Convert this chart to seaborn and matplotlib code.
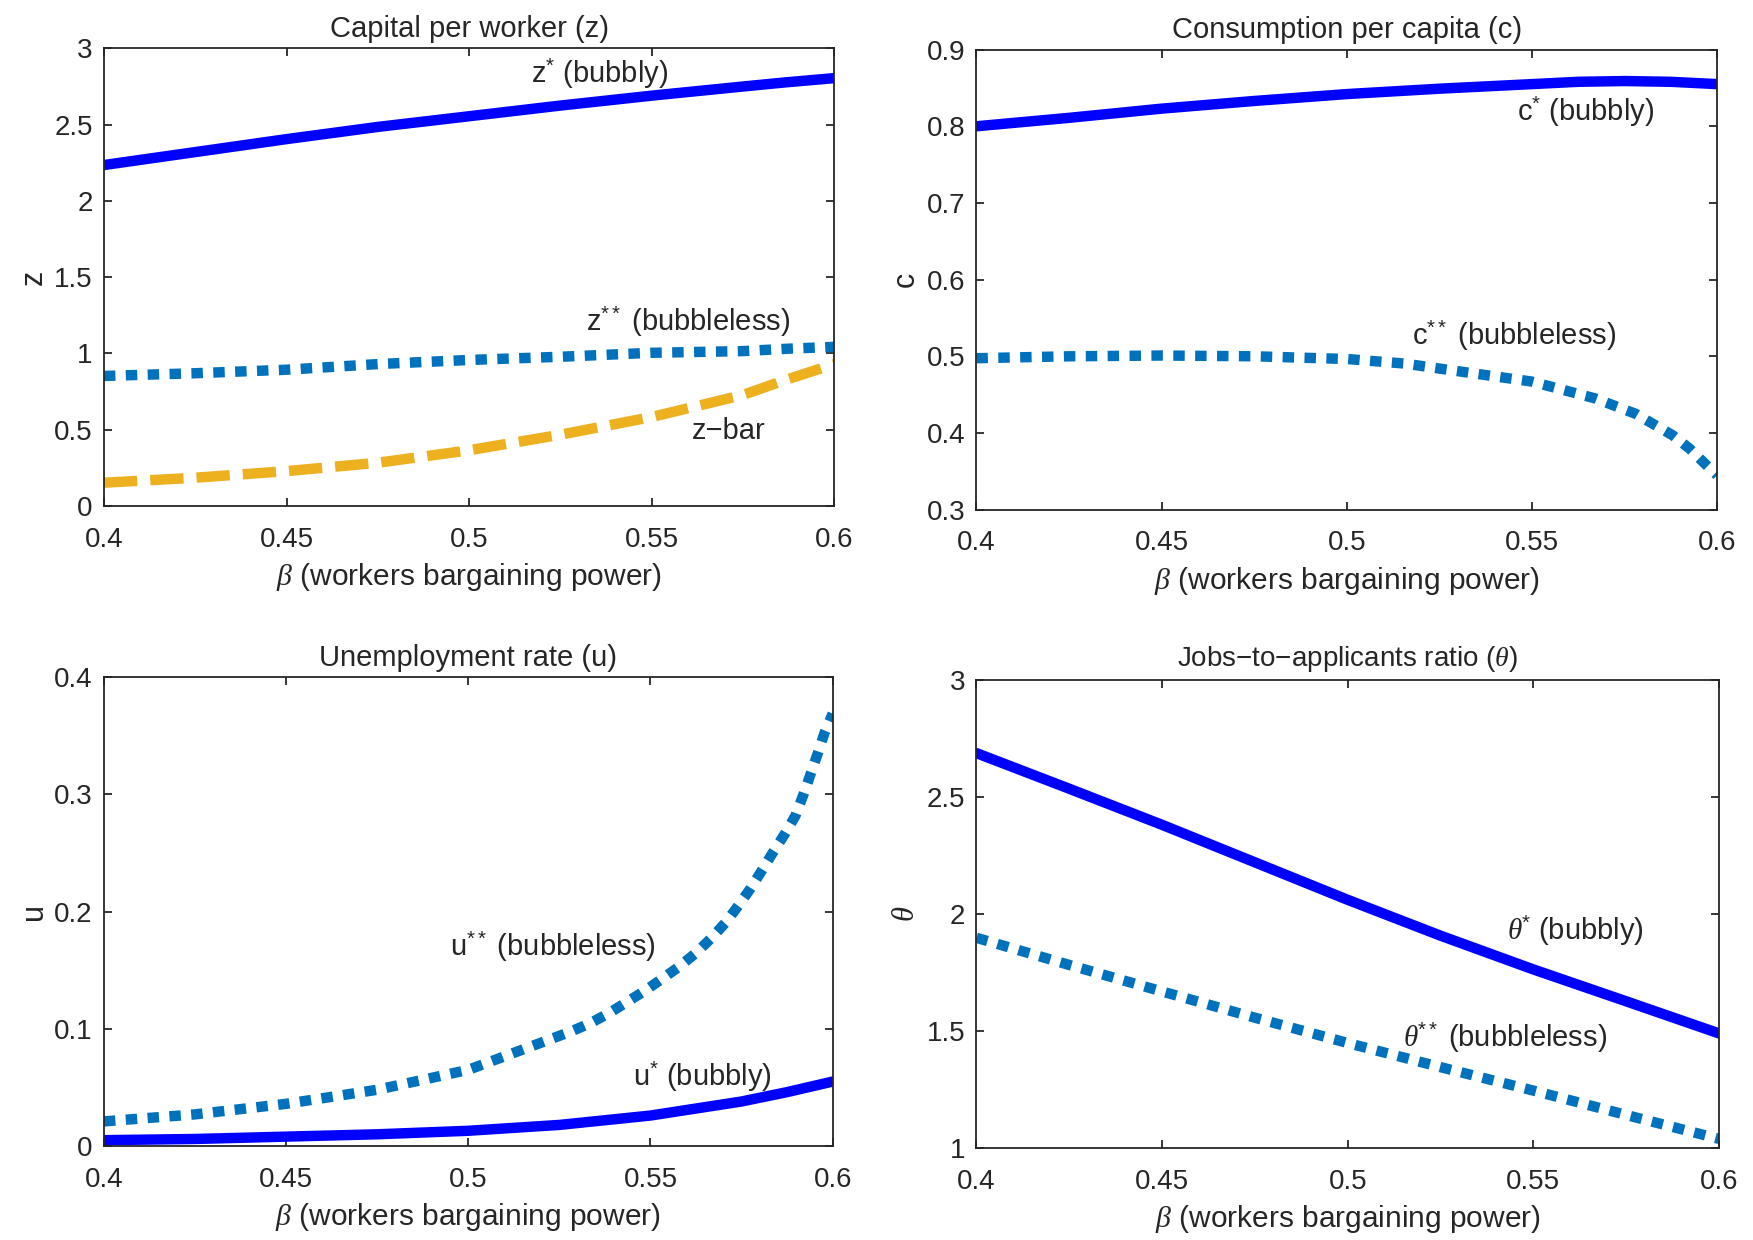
import seaborn as sns
import matplotlib.pyplot as plt

# values
beta_z = [0.4, 0.425, 0.45, 0.475, 0.5, 0.525, 0.55, 0.575, 0.5866, 0.6]
z_star = [2.235, 2.32, 2.405, 2.485, 2.555, 2.625, 2.69, 2.75, 2.777, 2.805]
z_2star = [0.852, 0.870, 0.893, 0.93, 0.957, 0.978, 1.004, 1.015, 1.03, 1.043]
z_bar = [0.152, 0.185, 0.228, 0.283, 0.365, 0.467, 0.583, 0.728, 0.826, 0.93]

beta_c = [0.4, 0.425, 0.45, 0.475, 0.5, 0.525, 0.55, 0.5625, 0.575, 0.5875, 0.6]
c_star = [0.80, 0.811, 0.823, 0.833, 0.842, 0.849, 0.855, 0.858, 0.859, 0.858, 0.855]
beta_c2 = [0.4, 0.425, 0.45, 0.475, 0.5, 0.5157, 0.525, 0.55, 0.5672, 0.578, 0.588, 0.5926, 0.5967, 0.6]
c_2star = [0.4975, 0.50, 0.501, 0.50, 0.4965, 0.4905, 0.484, 0.467, 0.4449, 0.425, 0.397, 0.3795, 0.36, 0.345]

beta_u = [0.4, 0.425, 0.45, 0.475, 0.5, 0.525, 0.55, 0.575, 0.5875, 0.6]
u_star = [0.005, 0.006, 0.008, 0.010, 0.013, 0.018, 0.026, 0.038, 0.046, 0.055]
beta_u2 = [0.4, 0.425, 0.45, 0.475, 0.5, 0.528, 0.5336, 0.5386, 0.5436, 0.5487, 0.5533,
           0.5578, 0.5628, 0.567, 0.5707, 0.5742, 0.5775, 0.5806, 0.5837, 0.587, 0.5898,
           0.5921, 0.594, 0.5959, 0.5977, 0.6]
u_2star = [0.021, 0.027, 0.036, 0.048, 0.065, 0.0975, 0.105, 0.1134, 0.123, 0.133, 0.143,
           0.1529, 0.1656, 0.1784, 0.191, 0.2055, 0.22, 0.2353, 0.251, 0.267, 0.282,
           0.301, 0.318, 0.335, 0.352, 0.369]

beta_t = [0.4, 0.425, 0.45, 0.475, 0.5, 0.525, 0.55, 0.575, 0.6]
theta_star = [2.686, 2.534, 2.38, 2.22, 2.06, 1.907, 1.763, 1.627, 1.49]
theta_2star = [1.898, 1.782, 1.669, 1.557, 1.449, 1.346, 1.246, 1.142, 1.04]

sns.set_style("ticks")
plt.rcParams['font.family'] = ['Liberation Sans', 'DejaVu Sans']
plt.rcParams['mathtext.fontset'] = 'custom'
plt.rcParams['mathtext.rm'] = 'Liberation Sans'
plt.rcParams['mathtext.it'] = 'Liberation Serif:italic'
plt.rcParams['mathtext.bf'] = 'Liberation Sans:bold'
plt.rcParams['axes.linewidth'] = 1.3
plt.rcParams['xtick.direction'] = 'in'
plt.rcParams['ytick.direction'] = 'in'

BLUE = '#0000FF'
LBLUE = '#0072BD'
YELLOW = '#EDB120'
LW = 7.5
DOT = (0, (1.1, 1.0))
DASH = (0, (3.2, 1.25))
ANN = 21

fig = plt.figure(figsize=(17.53, 12.40), dpi=100)
ax1 = fig.add_axes([0.0593, 0.592, 0.4167, 0.369])
ax2 = fig.add_axes([0.557, 0.589, 0.4225, 0.371])
ax3 = fig.add_axes([0.0593, 0.0758, 0.4157, 0.378])
ax4 = fig.add_axes([0.557, 0.074, 0.4236, 0.378])

S1 = r'$^{\mathrm{*}}$'
S2 = r'$^{\mathrm{**}}$'

sns.lineplot(x=beta_z, y=z_star, ax=ax1, color=BLUE, linewidth=LW)
sns.lineplot(x=beta_z, y=z_2star, ax=ax1, color=LBLUE, linewidth=LW, linestyle=DOT)
sns.lineplot(x=beta_z, y=z_bar, ax=ax1, color=YELLOW, linewidth=LW, linestyle=DASH)
ax1.set_ylim(0, 3)
ax1.set_yticks([0, 0.5, 1, 1.5, 2, 2.5, 3])
ax1.set_yticklabels(['0', '0.5', '1', '1.5', '2', '2.5', '3'])
ax1.set_title('Capital per worker (z)', fontsize=21, pad=8)
ax1.set_ylabel('z')
ax1.text(0.517, 2.77, 'z' + S1 + ' (bubbly)', fontsize=ANN)
ax1.text(0.532, 1.15, 'z' + S2 + ' (bubbleless)', fontsize=ANN)
ax1.text(0.561, 0.44, 'z\u2212bar', fontsize=ANN)

sns.lineplot(x=beta_c, y=c_star, ax=ax2, color=BLUE, linewidth=LW)
sns.lineplot(x=beta_c2, y=c_2star, ax=ax2, color=LBLUE, linewidth=LW, linestyle=DOT)
ax2.set_ylim(0.3, 0.9)
ax2.set_yticks([0.3, 0.4, 0.5, 0.6, 0.7, 0.8, 0.9])
ax2.set_yticklabels(['0.3', '0.4', '0.5', '0.6', '0.7', '0.8', '0.9'])
ax2.set_title('Consumption per capita (c)', fontsize=21, pad=8)
ax2.set_ylabel('c')
ax2.text(0.546, 0.8075, 'c' + S1 + ' (bubbly)', fontsize=ANN)
ax2.text(0.5175, 0.515, 'c' + S2 + ' (bubbleless)', fontsize=ANN)

sns.lineplot(x=beta_u2, y=u_2star, ax=ax3, color=LBLUE, linewidth=LW, linestyle=DOT)
sns.lineplot(x=beta_u, y=u_star, ax=ax3, color=BLUE, linewidth=LW)
ax3.set_ylim(0, 0.4)
ax3.set_yticks([0, 0.1, 0.2, 0.3, 0.4])
ax3.set_yticklabels(['0', '0.1', '0.2', '0.3', '0.4'])
ax3.set_title('Unemployment rate (u)', fontsize=21, pad=8)
ax3.set_ylabel('u')
ax3.text(0.495, 0.162, 'u' + S2 + ' (bubbleless)', fontsize=ANN)
ax3.text(0.5453, 0.051, 'u' + S1 + ' (bubbly)', fontsize=ANN)

sns.lineplot(x=beta_t, y=theta_star, ax=ax4, color=BLUE, linewidth=LW)
sns.lineplot(x=beta_t, y=theta_2star, ax=ax4, color=LBLUE, linewidth=LW, linestyle=DOT)
ax4.set_ylim(1, 3)
ax4.set_yticks([1, 1.5, 2, 2.5, 3])
ax4.set_yticklabels(['1', '1.5', '2', '2.5', '3'])
ax4.set_title('Jobs\u2212to\u2212applicants ratio ($\\theta$)', fontsize=20, pad=10)
ax4.set_ylabel(r'$\theta$')
ax4.text(0.543, 1.89, r'$\theta$' + S1 + ' (bubbly)', fontsize=ANN)
ax4.text(0.515, 1.43, r'$\theta$' + S2 + ' (bubbleless)', fontsize=ANN)

for ax in (ax1, ax2, ax3, ax4):
    ax.set_xlim(0.4, 0.6)
    ax.set_xticks([0.4, 0.45, 0.5, 0.55, 0.6])
    ax.set_xticklabels(['0.4', '0.45', '0.5', '0.55', '0.6'])
    ax.set_xlabel(r'$\beta$ (workers bargaining power)', fontsize=21.5, labelpad=6)
    ax.yaxis.label.set_size(22)
    ax.tick_params(axis='both', labelsize=20, length=6, width=1.3, top=True, right=True, color='#262626')
    ax.tick_params(axis='x', pad=15)
    ax.tick_params(axis='y', pad=8)
    for s in ax.spines.values():
        s.set_visible(True)
        s.set_color('#262626')

fig.savefig('out.png', dpi=100)
